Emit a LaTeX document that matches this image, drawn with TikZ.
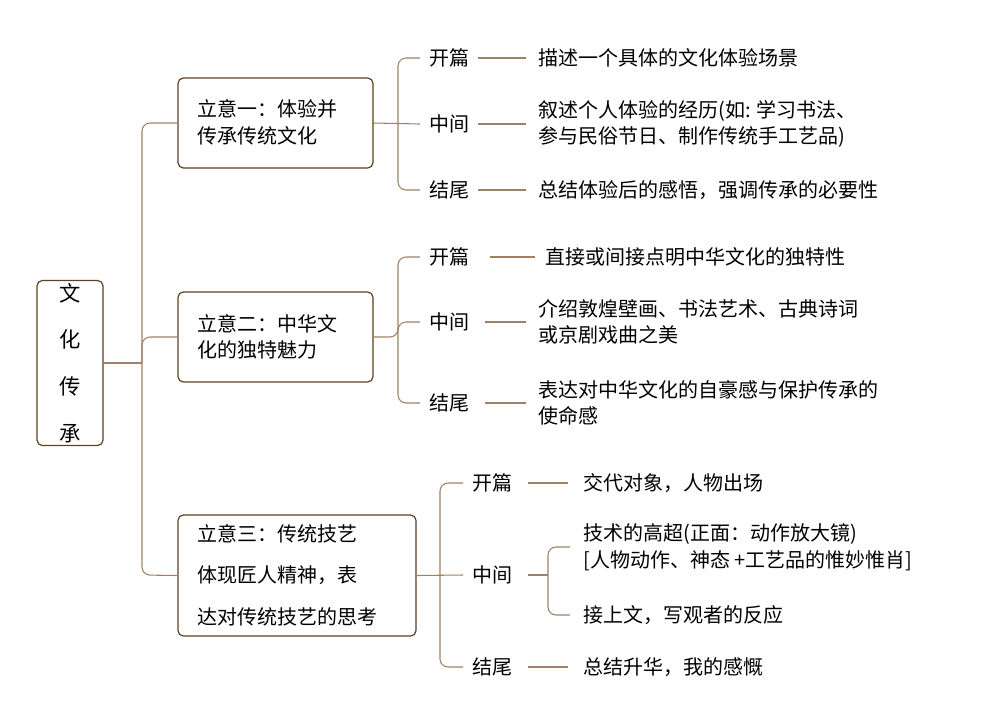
\documentclass[tikz,border=0pt]{standalone}
\usepackage{fontspec}
\setmainfont{Noto Sans CJK SC}
\usetikzlibrary{calc}
\begin{document}
\begin{tikzpicture}[x=0.75pt,y=-0.75pt,
  ln/.style={draw=brown!60!black!70, line width=0.8pt, rounded corners=6pt},
  bx/.style={draw=brown!50!black, line width=0.9pt, rounded corners=4pt, fill=white},
  tx/.style={font=\fontsize{15}{20}\selectfont, inner sep=0pt, anchor=west, align=left}]
\useasboundingbox (0,0) rectangle (1000,726);
% root
\node[bx, minimum width=66*0.75pt, minimum height=165*0.75pt] (root) at (70,363) {};
\node[font=\fontsize{16}{35}\selectfont, align=center] (rt) at (70,363) {文\\化\\传\\承};
% boxes
\node[bx, minimum width=195*0.75pt, minimum height=90*0.75pt] (b1) at (275.5,123) {};
\node[tx] (t1) at (197,122) {立意一：体验并\\传承传统文化};
\node[bx, minimum width=195*0.75pt, minimum height=90*0.75pt] (b2) at (275.5,337) {};
\node[tx] (t2) at (197,337) {立意二：中华文\\化的独特魅力};
\node[bx, minimum width=238*0.75pt, minimum height=121*0.75pt] (b3) at (297,575.5) {};
\node[tx, font=\fontsize{15}{31}\selectfont] (t3) at (197,575) {立意三：传统技艺\\体现匠人精神，表\\达对传统技艺的思考};
% trunk
\coordinate (j0) at (142,363);
\draw[ln] (root.east) -- (j0);
\draw[ln] (b1.west) -- (142,123) -- (142,575) -- (b3.west);
\draw[ln] (142,363) -- (142,337) -- (b2.west);
% branch 1
\node[tx] (k1) at (429,58) {开篇};
\node[tx] (m1) at (429,124) {中间};
\node[tx] (e1) at (429,190) {结尾};
\draw[ln] ($(k1.west)+(-9,0)$) -- (398,58) -- (398,190) -- ($(e1.west)+(-9,0)$);
\draw[ln] (b1.east) -- ($(m1.west)+(-9,0)$);
\node[tx] (k1t) at (538,58) {描述一个具体的文化体验场景};
\node[tx] (m1t) at (538,124) {叙述个人体验的经历(如: 学习书法、\\参与民俗节日、制作传统手工艺品)};
\node[tx] (e1t) at (538,190) {总结体验后的感悟，强调传承的必要性};
\draw[ln] ($(k1.east)+(8,0)$) -- ($(k1t.west)+(-12,0)$);
\draw[ln] ($(m1.east)+(8,0)$) -- ($(m1t.west)+(-12,0)$);
\draw[ln] ($(e1.east)+(8,0)$) -- ($(e1t.west)+(-12,0)$);
% branch 2
\node[tx] (k2) at (429,257) {开篇};
\node[tx] (m2) at (429,322) {中间};
\node[tx] (e2) at (429,403) {结尾};
\draw[ln] (420,257) -- (398,257) -- (398,403) -- (420,403);
\draw[ln] (b2.east) -- (398,337) -- (398,322) -- (420,322);
\node[tx] (k2t) at (545,257) {直接或间接点明中华文化的独特性};
\node[tx] (m2t) at (538,322) {介绍敦煌壁画、书法艺术、古典诗词\\或京剧戏曲之美};
\node[tx] (e2t) at (538,403) {表达对中华文化的自豪感与保护传承的\\使命感};
\draw[ln] (490,257) -- (535,257);
\draw[ln] (485,322) -- (526,322);
\draw[ln] (485,403) -- (526,403);
% branch 3
\node[tx] (k3) at (472,483) {开篇};
\node[tx] (m3) at (472,575) {中间};
\node[tx] (e3) at (472,667) {结尾};
\draw[ln] (463,483) -- (440,483) -- (440,667) -- (463,667);
\draw[ln] (b3.east) -- (463,575);
\node[tx] (k3t) at (583,483) {交代对象，人物出场};
\node[tx] (m3a) at (583,547) {技术的高超(正面：动作放大镜)\\{}{[人物动作、神态 +工艺品的惟妙惟肖]}};
\node[tx] (m3b) at (583,615) {接上文，写观者的反应};
\node[tx] (e3t) at (583,667) {总结升华，我的感慨};
\draw[ln] (528,483) -- (568,483);
\draw[ln] (528,667) -- (568,667);
\draw[ln] (528,575) -- (548,575);
\draw[ln] (570,547) -- (548,547) -- (548,615) -- (570,615);
\end{tikzpicture}
\end{document}
